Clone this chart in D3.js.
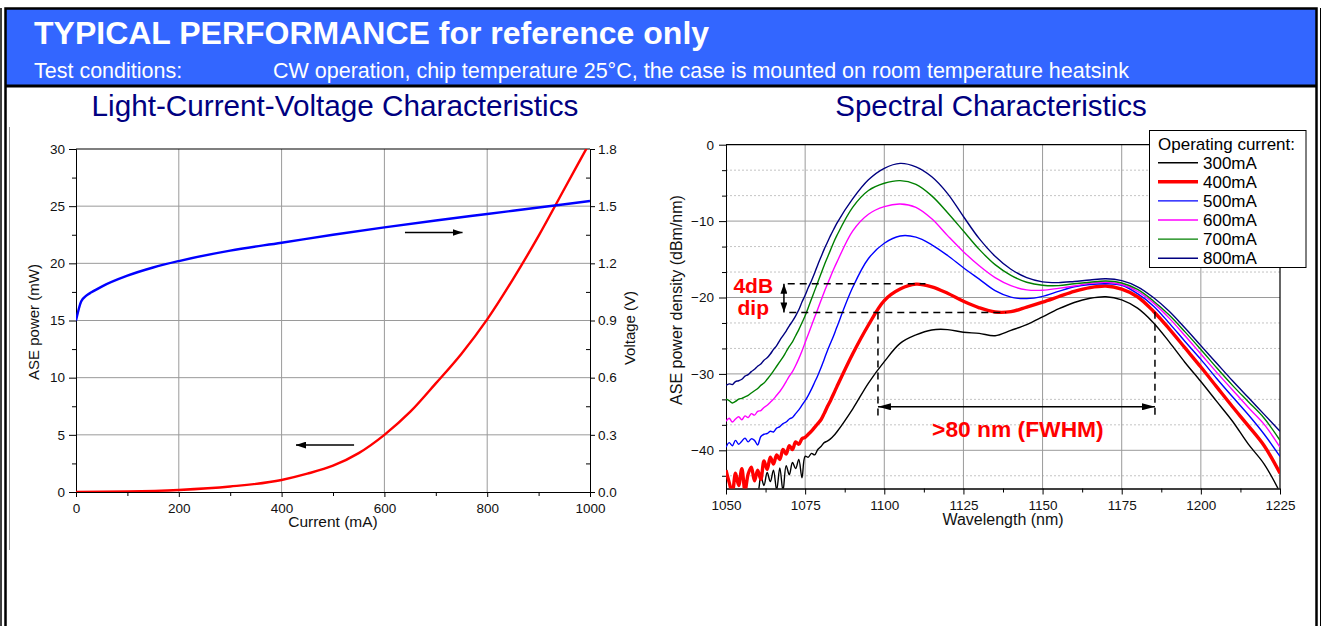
<!DOCTYPE html>
<html>
<head>
<meta charset="utf-8">
<script src="https://cdn.jsdelivr.net/npm/d3@7"></script>
<style>
  body { margin: 0; background: #fff; }
  svg { display: block; font-family: Arial, "Liberation Sans", sans-serif; }
</style>
</head>
<body>
<svg width="1322" height="626"></svg>
<script>
// ---- Light-Current-Voltage data ----
const powerCurrent = [0, 100, 200, 300, 400, 450, 500, 550, 600, 650, 700, 750, 800, 850, 900, 950, 1000];
const powerMw = [0, 0.04, 0.18, 0.48, 1.05, 1.6, 2.3, 3.4, 5.0, 7.0, 9.5, 12.1, 15.1, 18.6, 22.4, 26.5, 30.6];
const voltCurrent = [0, 10, 20, 30, 50, 100, 150, 200, 300, 400, 500, 600, 700, 800, 900, 1000];
const voltV = [0.90, 1.0, 1.03, 1.048, 1.078, 1.135, 1.178, 1.212, 1.267, 1.308, 1.35, 1.389, 1.425, 1.459, 1.493, 1.527];
const currentTicks = [0, 200, 400, 600, 800, 1000];
const powerTicks = [0, 5, 10, 15, 20, 25, 30];
const voltTicks = [0, 0.3, 0.6, 0.9, 1.2, 1.5, 1.8];

// ---- Spectral data (dBm/nm) ----
const wavelength = [1050, 1051, 1052, 1053, 1054, 1055, 1056, 1057, 1058, 1059, 1060,
  1061, 1062, 1063, 1064, 1065, 1066, 1067, 1068, 1069, 1070,
  1071, 1072, 1073, 1074, 1075, 1076, 1077, 1078, 1079, 1080,
  1081, 1082, 1083, 1084, 1085,
  1090, 1095, 1100, 1105, 1110, 1115, 1120, 1125, 1130, 1135,
  1140, 1145, 1150, 1155, 1160, 1165, 1170, 1175, 1180, 1185,
  1190, 1195, 1200, 1205, 1210, 1215, 1220, 1225];
const s300 = [-46.5, -46.2, -46.8, -46.0, -46.4, -45.9, -46.3, -45.6, -45.8, -45.2, -45.5,
  -43.4, -44.6, -42.9, -44.1, -42.6, -45.2, -42.3, -45.3, -42.0, -43.2,
  -41.6, -42.4, -41.2, -43.6, -40.8, -40.9, -40.4, -40.6, -39.9, -39.5,
  -39.0, -38.8, -38.5, -38.1, -37.6,
  -34.6, -31.2, -28.4, -26.0, -24.9, -24.25, -24.2, -24.55, -24.7, -25.0,
  -24.3, -23.55, -22.55, -21.5, -20.65, -20.1, -19.9, -20.3, -21.4, -23.3,
  -25.8, -28.5, -31.0, -33.6, -36.2, -39.2, -41.8, -45.5];
const s400 = [-42.6, -44.2, -45.5, -43.0, -44.6, -42.4, -45.3, -43.1, -42.2, -44.0, -42.6,
  -43.8, -41.4, -42.5, -40.9, -41.8, -40.6, -41.2, -39.9, -40.5, -39.4,
  -39.9, -38.9, -39.2, -38.5, -38.3, -37.9, -37.5, -37.0, -36.5, -36.0,
  -35.2, -34.3, -33.5, -32.6, -31.7,
  -27.4, -23.6, -20.4, -18.9, -18.25, -18.6, -19.45, -20.5, -21.35, -21.9,
  -21.85, -21.25, -20.6, -19.9, -19.2, -18.7, -18.5, -18.9, -19.9, -21.8,
  -24.1, -26.6, -29.1, -31.7, -34.3, -36.8, -39.4, -43.0];
const s500 = [-39.6, -39.0, -39.4, -38.7, -39.2, -38.8, -38.4, -38.9, -38.5, -38.7, -39.3,
  -38.2, -37.9, -37.8, -37.5, -37.6, -37.1, -36.9, -36.5, -36.3, -35.9,
  -35.7, -35.2, -34.7, -34.1, -33.5, -32.8, -32.0, -31.1, -30.2, -29.2,
  -28.1, -27.0, -26.0, -25.0, -23.9,
  -18.7, -14.9, -12.9, -11.95, -12.1, -13.1, -14.5, -16.1, -17.6, -19.1,
  -19.95, -20.15, -19.85, -19.2, -18.6, -18.3, -18.2, -18.4, -19.5, -21.1,
  -23.35, -25.75, -28.1, -30.6, -33.0, -35.35, -37.9, -40.8];
const s600 = [-36.2, -35.8, -36.3, -35.9, -35.6, -36.0, -35.5, -35.7, -35.2, -35.4, -34.9,
  -34.8, -34.4, -34.1, -33.7, -33.3, -32.8, -32.3, -31.7, -31.0, -30.3,
  -29.7, -28.9, -28.0, -27.0, -25.9, -24.8, -23.7, -22.6, -21.5, -20.4,
  -19.3, -18.3, -17.3, -16.3, -15.4,
  -11.3, -9.1, -8.1, -7.76, -8.2, -9.7, -11.9, -14.0, -15.85, -17.4,
  -18.45, -19.0, -19.05, -18.8, -18.5, -18.15, -18.0, -18.3, -19.2, -20.7,
  -22.7, -25.0, -27.4, -29.8, -32.1, -34.4, -36.6, -39.6];
const s700 = [-33.3, -33.5, -33.8, -33.6, -33.3, -33.2, -33.0, -32.8, -32.5, -32.2, -31.9,
  -31.5, -31.2, -30.7, -30.2, -29.6, -29.0, -28.4, -27.8, -27.1, -26.4,
  -25.8, -25.0, -24.2, -23.3, -22.4, -21.3, -20.2, -19.1, -18.0, -16.9,
  -15.8, -14.8, -13.8, -12.8, -11.9,
  -8.2, -6.0, -5.05, -4.7, -5.2, -6.7, -8.9, -11.3, -13.7, -15.7,
  -17.1, -18.0, -18.4, -18.45, -18.2, -18.0, -17.85, -18.1, -18.95, -20.45,
  -22.3, -24.5, -26.8, -29.2, -31.5, -33.65, -35.8, -38.7];
const s800 = [-31.5, -31.3, -31.4, -31.0, -30.9, -30.7, -30.3, -30.1, -29.7, -29.4, -29.0,
  -28.7, -28.2, -27.9, -27.4, -26.8, -26.3, -25.6, -25.0, -24.4, -23.7,
  -23.1, -22.4, -21.6, -20.6, -19.7, -18.7, -17.8, -16.8, -15.7, -14.7,
  -13.7, -12.8, -11.9, -11.1, -10.3,
  -7.1, -4.6, -3.1, -2.45, -2.9, -4.2, -6.4, -9.4, -12.3, -14.6,
  -16.3, -17.4, -17.95, -18.05, -17.9, -17.7, -17.55, -17.8, -18.6, -20.0,
  -21.8, -24.0, -26.3, -28.6, -30.9, -33.1, -35.3, -37.5];
const seriesNames = ['300mA', '400mA', '500mA', '600mA', '700mA', '800mA'];
const seriesValues = [s300, s400, s500, s600, s700, s800];
const seriesColors = ['#000000', '#ff0000', '#0000ff', '#ff00ff', '#008000', '#000080'];
const seriesWidths = [1.4, 3.4, 1.4, 1.4, 1.4, 1.4];
const wlTicks = [1050, 1075, 1100, 1125, 1150, 1175, 1200, 1225];
const dbTicks = [0, -10, -20, -30, -40];

// annotation anchors, in data units
const dipTop = -18.2, dipBottom = -21.95;
const fwhmLeft = 1098, fwhmRight = 1185.5, fwhmLevel = -34.3;

const FONT = 'Arial, "Liberation Sans", sans-serif';
const svg = d3.select('svg');

const defs = svg.append('defs');
function marker(id, w, h) {
  defs.append('marker')
    .attr('id', id)
    .attr('viewBox', '0 0 ' + w + ' ' + h)
    .attr('refX', w).attr('refY', h / 2)
    .attr('markerWidth', w).attr('markerHeight', h)
    .attr('markerUnits', 'userSpaceOnUse')
    .attr('orient', 'auto-start-reverse')
    .append('path')
    .attr('d', 'M0,0 L' + w + ',' + (h / 2) + ' L0,' + h + ' Z')
    .attr('fill', '#000');
}
marker('arrow', 13, 7);
marker('arrowSmall', 10, 7);

// ---- page frame & header ----
svg.append('rect')
  .attr('x', 5).attr('y', 9).attr('width', 1312).attr('height', 77)
  .attr('fill', '#3366ff');
svg.append('rect')
  .attr('x', 5.5).attr('y', 8.5).attr('width', 1311).attr('height', 700)
  .attr('fill', 'none').attr('stroke', '#000').attr('stroke-width', 2.5);
svg.append('line')
  .attr('x1', 5).attr('x2', 1317).attr('y1', 86).attr('y2', 86)
  .attr('stroke', '#000').attr('stroke-width', 3);
svg.append('line')
  .attr('x1', 1).attr('x2', 1).attr('y1', 8).attr('y2', 626)
  .attr('stroke', '#000').attr('stroke-width', 1.5);
svg.append('line')
  .attr('x1', 1320.5).attr('x2', 1320.5).attr('y1', 8).attr('y2', 626)
  .attr('stroke', '#000').attr('stroke-width', 1);
svg.append('line')
  .attr('x1', 9.5).attr('x2', 9.5).attr('y1', 127).attr('y2', 550)
  .attr('stroke', '#999').attr('stroke-width', 1);

svg.append('text')
  .attr('x', 34).attr('y', 44)
  .attr('font-size', 32).attr('font-weight', 'bold').attr('fill', '#fff')
  .text('TYPICAL PERFORMANCE for reference only');
svg.append('text')
  .attr('x', 34).attr('y', 78)
  .attr('font-size', 21.5).attr('fill', '#fff')
  .text('Test conditions:');
svg.append('text')
  .attr('x', 273).attr('y', 78)
  .attr('font-size', 21.5).attr('fill', '#fff')
  .text('CW operation, chip temperature 25°C, the case is mounted on room temperature heatsink');

function styleAxis(g, size) {
  g.attr('font-family', FONT).attr('font-size', size);
  g.selectAll('text').attr('fill', '#111');
  g.selectAll('line').attr('stroke', '#000');
  g.select('.domain').attr('stroke', '#000');
}

// ---- Light-Current-Voltage chart ----
const xCur = d3.scaleLinear().domain([0, 1000]).range([76, 590]);
const yPow = d3.scaleLinear().domain([0, 30]).range([492, 149]);
const yVolt = d3.scaleLinear().domain([0, 1.8]).range([492, 149]);

const lcv = svg.append('g');
lcv.append('text')
  .attr('x', 335).attr('y', 116).attr('text-anchor', 'middle')
  .attr('font-size', 29.7).attr('fill', '#000080')
  .text('Light-Current-Voltage Characteristics');

lcv.append('g').selectAll('line')
  .data(currentTicks.slice(1, -1)).join('line')
  .attr('x1', d => xCur(d)).attr('x2', d => xCur(d))
  .attr('y1', yPow(0)).attr('y2', yPow(30))
  .attr('stroke', '#9a9a9a').attr('stroke-width', 1);
lcv.append('g').selectAll('line')
  .data(powerTicks.slice(1, -1)).join('line')
  .attr('x1', xCur(0)).attr('x2', xCur(1000))
  .attr('y1', d => yPow(d)).attr('y2', d => yPow(d))
  .attr('stroke', '#9a9a9a').attr('stroke-width', 1);

lcv.append('g').attr('transform', 'translate(76,0)')
  .call(d3.axisLeft(yPow).tickValues(d3.range(2.5, 30, 5)).tickSize(4).tickSizeOuter(0).tickFormat(''))
  .call(g => styleAxis(g, 13.5));
lcv.append('g').attr('transform', 'translate(76,0)')
  .call(d3.axisLeft(yPow).tickValues(powerTicks).tickSize(7).tickSizeOuter(0).tickPadding(4))
  .call(g => styleAxis(g, 13.5));
lcv.append('g').attr('transform', 'translate(590,0)')
  .call(d3.axisRight(yVolt).tickValues(d3.range(0.15, 1.8, 0.3)).tickSize(-4).tickSizeOuter(0).tickFormat(''))
  .call(g => styleAxis(g, 13.5));
lcv.append('g').attr('transform', 'translate(590,0)')
  .call(d3.axisRight(yVolt).tickValues(voltTicks).tickSize(5).tickSizeOuter(0).tickPadding(3).tickFormat(d3.format('.1f')))
  .call(g => styleAxis(g, 13.5));
lcv.append('g').attr('transform', 'translate(0,492)')
  .call(d3.axisBottom(xCur).tickValues(d3.range(100, 1000, 200)).tickSize(4).tickSizeOuter(0).tickFormat(''))
  .call(g => styleAxis(g, 13.5));
lcv.append('g').attr('transform', 'translate(0,492)')
  .call(d3.axisBottom(xCur).tickValues(currentTicks).tickSize(5).tickSizeOuter(0).tickPadding(6).tickFormat(d3.format('d')))
  .call(g => styleAxis(g, 13.5));
lcv.append('line')
  .attr('x1', xCur(0)).attr('x2', xCur(1000)).attr('y1', yPow(30)).attr('y2', yPow(30))
  .attr('stroke', '#000').attr('stroke-width', 1.2);

lcv.append('text')
  .attr('x', 333).attr('y', 527).attr('text-anchor', 'middle')
  .attr('font-size', 15.5).attr('fill', '#111')
  .text('Current (mA)');
lcv.append('text')
  .attr('transform', 'translate(39,322) rotate(-90)').attr('text-anchor', 'middle')
  .attr('font-size', 15).attr('fill', '#111')
  .text('ASE power (mW)');
lcv.append('text')
  .attr('transform', 'translate(635,328) rotate(-90)').attr('text-anchor', 'middle')
  .attr('font-size', 15).attr('fill', '#111')
  .text('Voltage (V)');

defs.append('clipPath').attr('id', 'clipLcv')
  .append('rect').attr('x', 76).attr('y', 149).attr('width', 514).attr('height', 343);

const lcvPlot = lcv.append('g').attr('clip-path', 'url(#clipLcv)');
lcvPlot.append('path')
  .datum(d3.zip(powerCurrent, powerMw))
  .attr('fill', 'none').attr('stroke', '#ff0000').attr('stroke-width', 2.4)
  .attr('d', d3.line().x(d => xCur(d[0])).y(d => yPow(d[1])).curve(d3.curveMonotoneX));
lcvPlot.append('path')
  .datum(d3.zip(voltCurrent, voltV))
  .attr('fill', 'none').attr('stroke', '#0000ff').attr('stroke-width', 2.4)
  .attr('d', d3.line().x(d => xCur(d[0])).y(d => yVolt(d[1])).curve(d3.curveMonotoneX));

// axis pointers
lcv.append('line')
  .attr('x1', xCur(640)).attr('x2', xCur(752)).attr('y1', yPow(22.7)).attr('y2', yPow(22.7))
  .attr('stroke', '#000').attr('stroke-width', 1.5).attr('marker-end', 'url(#arrowSmall)');
lcv.append('line')
  .attr('x1', xCur(541)).attr('x2', xCur(428)).attr('y1', yPow(4.1)).attr('y2', yPow(4.1))
  .attr('stroke', '#000').attr('stroke-width', 1.5).attr('marker-end', 'url(#arrowSmall)');

// ---- Spectral chart ----
const xWl = d3.scaleLinear().domain([1050, 1225]).range([726, 1280]);
const yDb = d3.scaleLinear().domain([-45, 0]).range([488.5, 144.7]);

const spec = svg.append('g');
spec.append('text')
  .attr('x', 991).attr('y', 116).attr('text-anchor', 'middle')
  .attr('font-size', 29.5).attr('fill', '#000080')
  .text('Spectral Characteristics');

const thirds = d3.range(0, -45.01, -10 / 3).filter((d, i) => i % 3 !== 0);
spec.append('g').selectAll('line')
  .data(thirds).join('line')
  .attr('x1', xWl(1050)).attr('x2', xWl(1225))
  .attr('y1', d => yDb(d)).attr('y2', d => yDb(d))
  .attr('stroke', '#c4c4c4').attr('stroke-width', 1).attr('stroke-dasharray', '2,2');
spec.append('g').selectAll('line')
  .data(dbTicks.slice(1)).join('line')
  .attr('x1', xWl(1050)).attr('x2', xWl(1225))
  .attr('y1', d => yDb(d)).attr('y2', d => yDb(d))
  .attr('stroke', '#9a9a9a').attr('stroke-width', 1);
spec.append('g').selectAll('line')
  .data(wlTicks.slice(1, -1)).join('line')
  .attr('x1', d => xWl(d)).attr('x2', d => xWl(d))
  .attr('y1', yDb(-45)).attr('y2', yDb(0))
  .attr('stroke', '#9a9a9a').attr('stroke-width', 1);

spec.append('g').attr('transform', 'translate(726,0)')
  .call(d3.axisLeft(yDb).tickValues(thirds).tickSize(4).tickSizeOuter(0).tickFormat(''))
  .call(g => styleAxis(g, 13.5));
spec.append('g').attr('transform', 'translate(726,0)')
  .call(d3.axisLeft(yDb).tickValues(dbTicks).tickSize(7).tickSizeOuter(0).tickPadding(5))
  .call(g => styleAxis(g, 13.5));
spec.append('g').attr('transform', 'translate(0,488.5)')
  .call(d3.axisBottom(xWl).tickValues(d3.range(1062.5, 1225, 25)).tickSize(4).tickSizeOuter(0).tickFormat(''))
  .call(g => styleAxis(g, 13.5));
spec.append('g').attr('transform', 'translate(0,488.5)')
  .call(d3.axisBottom(xWl).tickValues(wlTicks).tickSize(6).tickSizeOuter(0).tickPadding(6).tickFormat(d3.format('d')))
  .call(g => styleAxis(g, 13.5));
spec.append('path')
  .attr('d', 'M' + xWl(1050) + ',' + yDb(0) + 'H' + xWl(1225) + 'V' + yDb(-45))
  .attr('fill', 'none').attr('stroke', '#000').attr('stroke-width', 1.2);

spec.append('text')
  .attr('x', 1003).attr('y', 525).attr('text-anchor', 'middle')
  .attr('font-size', 16).attr('fill', '#111')
  .text('Wavelength (nm)');
spec.append('text')
  .attr('transform', 'translate(682,300) rotate(-90)').attr('text-anchor', 'middle')
  .attr('font-size', 16).attr('fill', '#111')
  .text('ASE power density (dBm/nm)');

defs.append('clipPath').attr('id', 'clipSpec')
  .append('rect').attr('x', 726).attr('y', 144.7).attr('width', 554).attr('height', 343.8);

const specLine = d3.line()
  .x(d => xWl(d[0])).y(d => yDb(d[1]))
  .curve(d3.curveCatmullRom.alpha(0.5));
spec.append('g').attr('clip-path', 'url(#clipSpec)')
  .selectAll('path')
  .data(seriesValues).join('path')
  .attr('fill', 'none')
  .attr('stroke', (d, i) => seriesColors[i])
  .attr('stroke-width', (d, i) => seriesWidths[i])
  .attr('stroke-linejoin', 'round')
  .attr('d', d => specLine(d3.zip(wavelength, d)));

// 4 dB dip annotation
const ann = spec.append('g').attr('stroke', '#000').attr('stroke-width', 1.5).attr('fill', 'none');
ann.append('line')
  .attr('x1', xWl(1069.5)).attr('x2', xWl(1113)).attr('y1', yDb(dipTop)).attr('y2', yDb(dipTop))
  .attr('stroke-dasharray', '7,5');
ann.append('line')
  .attr('x1', xWl(1070)).attr('x2', xWl(1138.5)).attr('y1', yDb(dipBottom)).attr('y2', yDb(dipBottom))
  .attr('stroke-dasharray', '7,5');
ann.append('line')
  .attr('x1', xWl(1068.3)).attr('x2', xWl(1068.3)).attr('y1', yDb(dipTop)).attr('y2', yDb(dipBottom))
  .attr('marker-start', 'url(#arrowSmall)').attr('marker-end', 'url(#arrowSmall)');

// FWHM annotation
ann.append('line')
  .attr('x1', xWl(fwhmLeft)).attr('x2', xWl(fwhmLeft)).attr('y1', yDb(dipBottom)).attr('y2', yDb(-35.6))
  .attr('stroke-dasharray', '7,5');
ann.append('line')
  .attr('x1', xWl(fwhmRight)).attr('x2', xWl(fwhmRight)).attr('y1', yDb(-21.85)).attr('y2', yDb(-35.6))
  .attr('stroke-dasharray', '7,5');
ann.append('line')
  .attr('x1', xWl(fwhmLeft)).attr('x2', xWl(fwhmRight)).attr('y1', yDb(fwhmLevel)).attr('y2', yDb(fwhmLevel))
  .attr('marker-start', 'url(#arrow)').attr('marker-end', 'url(#arrow)');

spec.append('text')
  .attr('x', xWl(1058.6)).attr('y', yDb(-19.4)).attr('text-anchor', 'middle')
  .attr('font-size', 21).attr('font-weight', 'bold').attr('fill', '#ff0000')
  .text('4dB');
spec.append('text')
  .attr('x', xWl(1058.6)).attr('y', yDb(-22.3)).attr('text-anchor', 'middle')
  .attr('font-size', 21).attr('font-weight', 'bold').attr('fill', '#ff0000')
  .text('dip');
spec.append('text')
  .attr('x', xWl(1142.2)).attr('y', yDb(-38.3)).attr('text-anchor', 'middle')
  .attr('font-size', 22.8).attr('font-weight', 'bold').attr('fill', '#ff0000')
  .text('>80 nm (FWHM)');

// legend
const legend = spec.append('g').attr('font-size', 17).attr('fill', '#000');
legend.append('rect')
  .attr('x', 1149.5).attr('y', 130.5).attr('width', 156.5).attr('height', 137)
  .attr('fill', '#fff').attr('stroke', '#000').attr('stroke-width', 1);
legend.append('text').attr('x', 1158).attr('y', 149.5).text('Operating current:');
const rows = legend.selectAll('g.row')
  .data(seriesNames).join('g')
  .attr('class', 'row')
  .attr('transform', (d, i) => 'translate(0,' + (162.7 + i * 19.1) + ')');
rows.append('line')
  .attr('x1', 1158).attr('x2', 1198).attr('y1', 0).attr('y2', 0)
  .attr('stroke', (d, i) => seriesColors[i])
  .attr('stroke-width', (d, i) => seriesWidths[i]);
rows.append('text').attr('x', 1203).attr('y', 5.8).text(d => d);
</script>
</body>
</html>
